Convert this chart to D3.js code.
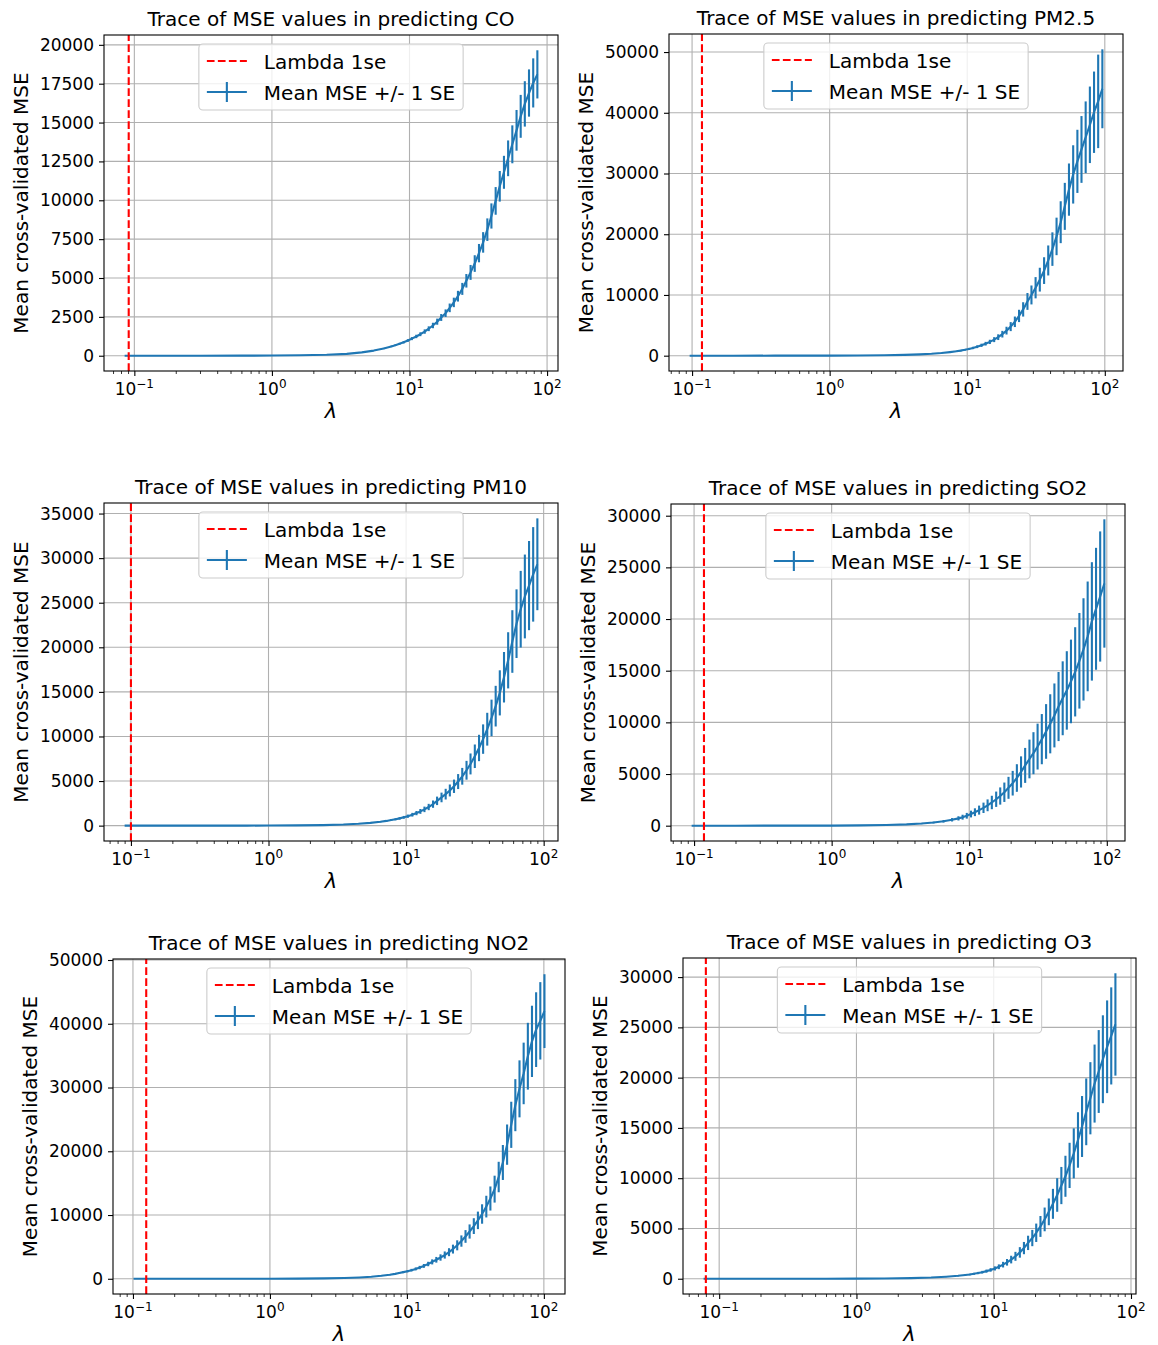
<!DOCTYPE html>
<html>
<head>
<meta charset="utf-8">
<script src="https://cdn.jsdelivr.net/npm/d3@7"></script>
<style>
  body { margin: 0; background: #fff; }
  text { font-family: "DejaVu Sans", sans-serif; }
</style>
</head>
<body>
<script>
// values: lambda grid, mean CV MSE and its standard error
const pollutants = ["CO", "PM2.5", "PM10", "SO2", "NO2", "O3"];
const lambda1se = [0.091, 0.118, 0.100, 0.118, 0.125, 0.080];

const coLambda = [0.085, 0.091, 0.15, 0.3, 0.6, 1.0, 1.6, 2.5, 3.5, 4.5, 5.5, 6.5,
  7.36, 7.89, 8.46, 9.07, 9.73, 10.4, 11.2, 12.0, 12.9, 13.8, 14.8, 15.9, 17.0, 18.3, 19.6, 21.0, 22.5, 24.2,
  25.9, 27.8, 29.8, 32.0, 34.3, 36.8, 39.4, 42.3, 45.3, 48.6, 52.1, 55.9, 60.0, 64.3, 68.9, 73.9, 79.3, 85.0];
const coMse = [0.1, 0.1, 0.2, 0.9, 3.6, 10, 26, 62, 122, 215, 330, 470,
  600, 680, 767, 865, 980, 1100, 1240, 1383, 1555, 1737, 1945, 2190, 2460, 2735, 3080, 3430, 3830, 4300,
  4820, 5360, 5930, 6600, 7290, 8110, 8990, 9960, 10900, 11800, 12700, 13600, 14500, 15400, 16200, 16900, 17550, 18100];
const coSe = [0, 0, 0, 0.1, 0.3, 1, 2, 5, 11, 19, 30, 42,
  50, 58, 66, 75, 86, 98, 110, 124, 140, 155, 176, 196, 222, 245, 278, 305, 345, 385,
  435, 480, 535, 590, 660, 725, 810, 890, 985, 1060, 1150, 1220, 1310, 1380, 1460, 1520, 1580, 1550];
const coYTicks = [0, 2500, 5000, 7500, 10000, 12500, 15000, 17500, 20000];

const pm25Lambda = [0.096, 0.103, 0.118, 0.2, 0.4, 0.7, 1.0, 1.6, 2.5, 3.5, 4.5, 5.5, 6.5, 7.5,
  8.35, 8.95, 9.60, 10.3, 11.0, 11.8, 12.7, 13.6, 14.6, 15.7, 16.8, 18.0, 19.3, 20.7, 22.2, 23.8, 25.5, 27.4,
  29.3, 31.4, 33.7, 36.2, 38.8, 41.6, 44.6, 47.8, 51.2, 54.9, 58.9, 63.2, 67.7, 72.6, 77.9, 83.5, 89.5, 96.0];
const pm25Mse = [0.1, 0.1, 0.1, 0.4, 1.6, 5, 10, 26, 62, 125, 210, 315, 440, 590,
  725, 832, 962, 1113, 1271, 1472, 1711, 1972, 2270, 2642, 3048, 3539, 4124, 4786, 5580, 6546, 7621, 8933,
  10000, 11190, 12520, 14010, 15680, 17550, 19640, 21980, 24590, 27350, 29850, 32000, 33960, 35970, 38020, 40090, 41880, 43950];
const pm25Se = [0, 0, 0, 0.1, 0.3, 0.8, 1.5, 4, 10, 19, 32, 48, 68, 92,
  110, 128, 148, 172, 196, 228, 265, 305, 352, 410, 472, 548, 640, 742, 865, 1015, 1180, 1385,
  1560, 1750, 1960, 2200, 2470, 2760, 3090, 3450, 3870, 4300, 4800, 5200, 5500, 5900, 6300, 6700, 7700, 6500];
const pm25YTicks = [0, 10000, 20000, 30000, 40000, 50000];

const pm10Lambda = [0.09, 0.1, 0.2, 0.4, 0.7, 1.0, 1.6, 2.5, 3.5, 4.5, 5.5, 6.5, 7.2,
  7.80, 8.37, 8.97, 9.62, 10.3, 11.1, 11.9, 12.7, 13.6, 14.6, 15.7, 16.8, 18.1, 19.4, 20.8, 22.3, 23.9, 25.6,
  27.5, 29.4, 31.6, 33.9, 36.3, 38.9, 41.8, 44.8, 48.0, 51.5, 55.2, 59.2, 63.5, 68.1, 73.0, 78.3, 83.9, 90.0];
const pm10Mse = [0.1, 0.1, 0.4, 1.6, 5, 10, 26, 62, 122, 205, 305, 430, 530,
  624, 715, 815, 929, 1060, 1224, 1406, 1595, 1824, 2089, 2410, 2780, 3162, 3532, 3945, 4415, 4943, 5534,
  6209, 6918, 7780, 8710, 9705, 10814, 12080, 13400, 14890, 16640, 18540, 20650, 22650, 24270, 25700, 26920, 28180, 29310];
const pm10Se = [0, 0, 0.1, 0.3, 0.8, 1.7, 4.4, 10, 21, 35, 52, 73, 90,
  106, 122, 139, 158, 180, 208, 239, 271, 310, 355, 410, 475, 540, 600, 670, 750, 840, 940,
  1055, 1175, 1320, 1480, 1650, 1840, 2050, 2280, 2530, 2830, 3150, 3510, 3850, 4300, 4700, 5000, 5300, 5150];
const pm10YTicks = [0, 5000, 10000, 15000, 20000, 25000, 30000, 35000];

const so2Lambda = [0.096, 0.103, 0.118, 0.2, 0.4, 0.7, 1.0, 1.6, 2.5, 3.5, 4.5, 5.5, 6.5, 7.5,
  8.35, 8.95, 9.60, 10.3, 11.0, 11.8, 12.7, 13.6, 14.6, 15.7, 16.8, 18.0, 19.3, 20.7, 22.2, 23.8, 25.5, 27.4,
  29.3, 31.4, 33.7, 36.2, 38.8, 41.6, 44.6, 47.8, 51.2, 54.9, 58.9, 63.2, 67.7, 72.6, 77.9, 83.5, 89.5, 96.0];
const so2Mse = [0.1, 0.1, 0.1, 0.4, 1.6, 5, 10, 26, 62, 125, 205, 305, 425, 570,
  708, 822, 960, 1127, 1303, 1507, 1730, 1972, 2244, 2559, 2871, 3236, 3664, 4111, 4613, 5200, 5834, 6457,
  7015, 7656, 8375, 9120, 9860, 10670, 11530, 12330, 13090, 13960, 14890, 15960, 17060, 18320, 19770, 20990, 22180, 23440];
const so2Se = [0, 0, 0, 0.1, 0.5, 1.5, 3, 8, 18, 36, 60, 88, 123, 165,
  205, 238, 278, 327, 378, 437, 502, 572, 651, 742, 833, 938, 1063, 1192, 1338, 1508, 1692, 1873,
  2034, 2220, 2429, 2645, 2860, 3094, 3344, 3576, 3796, 4048, 4318, 4628, 4950, 5310, 5730, 5900, 6300, 6210];
const so2YTicks = [0, 5000, 10000, 15000, 20000, 25000, 30000];

const no2Lambda = [0.101, 0.125, 0.2, 0.4, 0.7, 1.0, 1.6, 2.5, 3.5, 4.5, 5.5, 6.5, 7.5, 8.2,
  8.78, 9.41, 10.1, 10.8, 11.6, 12.4, 13.3, 14.3, 15.3, 16.4, 17.6, 18.9, 20.3, 21.7, 23.3, 25.0, 26.8, 28.7,
  30.8, 33.0, 35.4, 38.0, 40.7, 43.7, 46.8, 50.2, 53.9, 57.8, 61.9, 66.4, 71.2, 76.4, 81.9, 87.8, 94.2, 101];
const no2Mse = [0.1, 0.2, 0.4, 1.6, 5, 10, 26, 62, 122, 205, 310, 470, 640, 770,
  906, 1040, 1188, 1352, 1550, 1762, 2018, 2317, 2649, 2979, 3336, 3724, 4169, 4656, 5248, 5916, 6637, 7413,
  8260, 9162, 10160, 11320, 12590, 14060, 15960, 18240, 21040, 24150, 27230, 29790, 32210, 34910, 37240, 39080, 40460, 41980];
const no2Se = [0, 0, 0.1, 0.2, 0.7, 1.5, 4, 9, 18, 31, 47, 70, 96, 116,
  136, 156, 178, 203, 232, 264, 303, 348, 397, 447, 500, 559, 625, 698, 787, 887, 996, 1112,
  1239, 1374, 1524, 1700, 1890, 2110, 2390, 2740, 3160, 3620, 4080, 4470, 4830, 5240, 5590, 5860, 6070, 5790];
const no2YTicks = [0, 10000, 20000, 30000, 40000, 50000];

const o3Lambda = [0.077, 0.080, 0.15, 0.3, 0.6, 1.0, 1.6, 2.5, 3.5, 4.5, 5.5, 6.2,
  6.69, 7.18, 7.70, 8.25, 8.85, 9.49, 10.2, 10.9, 11.7, 12.5, 13.4, 14.4, 15.5, 16.6, 17.8, 19.1, 20.4, 21.9,
  23.5, 25.2, 27.0, 29.0, 31.1, 33.3, 35.7, 38.3, 41.1, 44.0, 47.2, 50.6, 54.3, 58.2, 62.4, 67.0, 71.8, 77.0];
const o3Mse = [0.1, 0.1, 0.2, 0.9, 3.6, 10, 26, 62, 120, 200, 290, 365,
  420, 488, 564, 652, 757, 875, 1025, 1189, 1400, 1633, 1905, 2228, 2618, 3048, 3565, 4046, 4571, 5200,
  5900, 6650, 7450, 8330, 9268, 10190, 11270, 12470, 13800, 15140, 16600, 17950, 19410, 20610, 21830, 23070, 24150, 25290];
const o3Se = [0, 0, 0, 0.2, 0.7, 2, 5, 12, 24, 40, 58, 73,
  84, 98, 113, 130, 151, 175, 205, 238, 280, 327, 381, 446, 524, 610, 713, 809, 914, 1040,
  1180, 1330, 1490, 1670, 1850, 2040, 2250, 2490, 2760, 3030, 3320, 3590, 3880, 4120, 4370, 4610, 4830, 5090];
const o3YTicks = [0, 5000, 10000, 15000, 20000, 25000, 30000];

const lambdas = [coLambda, pm25Lambda, pm10Lambda, so2Lambda, no2Lambda, o3Lambda];
const mses = [coMse, pm25Mse, pm10Mse, so2Mse, no2Mse, o3Mse];
const ses = [coSe, pm25Se, pm10Se, so2Se, no2Se, o3Se];
const yTicks = [coYTicks, pm25YTicks, pm10YTicks, so2YTicks, no2YTicks, o3YTicks];

// plot-area boxes of the six pasted figures
const boxes = [
  {left: 104, top: 35, right: 558, bottom: 371},
  {left: 669, top: 34, right: 1123, bottom: 371},
  {left: 104, top: 503, right: 558, bottom: 841},
  {left: 671, top: 504, right: 1125, bottom: 841},
  {left: 113, top: 959, right: 565, bottom: 1294},
  {left: 683, top: 958, right: 1136, bottom: 1294}
];

const blue = "#1f77b4";
const svg = d3.select("body").append("svg").attr("width", 1158).attr("height", 1345);

function drawPanel(i) {
  const box = boxes[i];
  const lam = lambdas[i], mse = mses[i], se = ses[i];
  const g = svg.append("g");

  // matplotlib-like 5% margins (log space on x)
  const lx = d3.extent(lam).map(Math.log10);
  const mx = (lx[1] - lx[0]) * 0.05;
  const x = d3.scaleLog().domain([10 ** (lx[0] - mx), 10 ** (lx[1] + mx)]).range([box.left, box.right]);
  const lo = d3.min(mse, (d, k) => d - se[k]);
  const hi = d3.max(mse, (d, k) => d + se[k]);
  const my = (hi - lo) * 0.05;
  const y = d3.scaleLinear().domain([lo - my, hi + my]).range([box.bottom, box.top]);

  const [d0, d1] = x.domain();
  const decades = [0.1, 1, 10, 100].filter(d => d >= d0 && d <= d1);
  const minors = [];
  [0.01, 0.1, 1, 10, 100].forEach(dec => {
    for (let m = 2; m <= 9; m++) { const v = dec * m; if (v >= d0 && v <= d1) minors.push(v); }
  });

  // grid
  g.append("g").selectAll("line.gy").data(yTicks[i]).join("line")
    .attr("x1", box.left).attr("x2", box.right)
    .attr("y1", d => y(d)).attr("y2", d => y(d))
    .attr("stroke", "#b0b0b0").attr("stroke-width", 1.1);
  g.append("g").selectAll("line.gx").data(decades).join("line")
    .attr("x1", d => x(d)).attr("x2", d => x(d))
    .attr("y1", box.top).attr("y2", box.bottom)
    .attr("stroke", "#b0b0b0").attr("stroke-width", 1.1);

  const clipId = "clip" + i;
  g.append("clipPath").attr("id", clipId).append("rect")
    .attr("x", box.left).attr("y", box.top)
    .attr("width", box.right - box.left).attr("height", box.bottom - box.top);
  const plot = g.append("g").attr("clip-path", `url(#${clipId})`);

  // error bars
  plot.selectAll("line.eb").data(lam).join("line")
    .attr("x1", d => x(d)).attr("x2", d => x(d))
    .attr("y1", (d, k) => y(mse[k] - se[k])).attr("y2", (d, k) => y(mse[k] + se[k]))
    .attr("stroke", blue).attr("stroke-width", 2.1);

  const line = d3.line().x((d, k) => x(lam[k])).y(d => y(d));
  plot.append("path").attr("d", line(mse))
    .attr("fill", "none").attr("stroke", blue).attr("stroke-width", 2.1)
    .attr("stroke-linejoin", "round");

  // lambda 1se
  plot.append("line")
    .attr("x1", x(lambda1se[i])).attr("x2", x(lambda1se[i]))
    .attr("y1", box.bottom).attr("y2", box.top)
    .attr("stroke", "#ff0000").attr("stroke-width", 2.1)
    .attr("stroke-dasharray", "7.7,3.3");

  // spines
  g.append("rect").attr("x", box.left).attr("y", box.top)
    .attr("width", box.right - box.left).attr("height", box.bottom - box.top)
    .attr("fill", "none").attr("stroke", "#000").attr("stroke-width", 1.1);

  // y axis
  g.append("g").attr("transform", `translate(${box.left},0)`)
    .call(d3.axisLeft(y).tickValues(yTicks[i]).tickSize(5).tickPadding(5).tickFormat(d3.format("d")))
    .call(a => a.select(".domain").remove())
    .attr("font-size", 17).attr("font-family", "DejaVu Sans")
    .call(a => a.selectAll("line").attr("stroke-width", 1.1))
    .call(a => a.selectAll("text").attr("fill", "#000"));

  // x axis: major and minor log ticks
  g.append("g").attr("transform", `translate(0,${box.bottom})`)
    .call(d3.axisBottom(x).tickValues(decades).tickSize(5).tickFormat(""))
    .call(a => a.select(".domain").remove())
    .call(a => a.selectAll("line").attr("stroke-width", 1.1));
  g.append("g").attr("transform", `translate(0,${box.bottom})`)
    .call(d3.axisBottom(x).tickValues(minors).tickSize(3).tickFormat(""))
    .call(a => a.select(".domain").remove())
    .call(a => a.selectAll("line").attr("stroke-width", 0.8));

  g.append("g").selectAll("text").data(decades).join("text")
    .attr("x", d => x(d)).attr("y", box.bottom + 24)
    .attr("text-anchor", "middle").attr("font-size", 17).attr("fill", "#000")
    .each(function (d) {
      const e = Math.round(Math.log10(d));
      const t = d3.select(this);
      t.append("tspan").text("10");
      t.append("tspan").attr("font-size", 12).attr("dy", -7)
        .text(e < 0 ? "\u2212" + (-e) : String(e));
    });

  const cx = (box.left + box.right) / 2;
  const cy = (box.top + box.bottom) / 2;

  g.append("text").attr("x", cx).attr("y", box.top - 9)
    .attr("text-anchor", "middle").attr("font-size", 20)
    .text("Trace of MSE values in predicting " + pollutants[i]);

  g.append("text").attr("x", cx).attr("y", box.bottom + 47)
    .attr("text-anchor", "middle").attr("font-size", 21).attr("font-style", "italic")
    .text("\u03bb");

  g.append("text")
    .attr("transform", `translate(${box.left - 76},${cy}) rotate(-90)`)
    .attr("text-anchor", "middle").attr("font-size", 20)
    .text("Mean cross-validated MSE");

  // legend, upper center
  const lg = g.append("g");
  const labels = ["Lambda 1se", "Mean MSE +/- 1 SE"];
  const texts = lg.selectAll("text").data(labels).join("text")
    .attr("font-size", 20).attr("dominant-baseline", "central").text(d => d);
  const tw = d3.max(texts.nodes(), n => n.getComputedTextLength());
  const lw = tw + 73;
  const lx0 = cx - lw / 2;
  const ly0 = box.top + 9;
  lg.insert("rect", ":first-child")
    .attr("x", lx0).attr("y", ly0).attr("width", lw).attr("height", 66)
    .attr("rx", 4).attr("fill", "#fff").attr("fill-opacity", 0.8)
    .attr("stroke", "#cccccc").attr("stroke-width", 1.1);
  texts.attr("x", lx0 + 65).attr("y", (d, k) => ly0 + 18 + k * 31);
  lg.append("line")
    .attr("x1", lx0 + 8).attr("x2", lx0 + 48)
    .attr("y1", ly0 + 17).attr("y2", ly0 + 17)
    .attr("stroke", "#ff0000").attr("stroke-width", 2.1).attr("stroke-dasharray", "7.7,3.3");
  lg.append("line")
    .attr("x1", lx0 + 8).attr("x2", lx0 + 48)
    .attr("y1", ly0 + 48).attr("y2", ly0 + 48)
    .attr("stroke", blue).attr("stroke-width", 2.1);
  lg.append("line")
    .attr("x1", lx0 + 28).attr("x2", lx0 + 28)
    .attr("y1", ly0 + 38).attr("y2", ly0 + 58)
    .attr("stroke", blue).attr("stroke-width", 2.1);
}

pollutants.forEach((p, i) => drawPanel(i));
</script>
</body>
</html>
